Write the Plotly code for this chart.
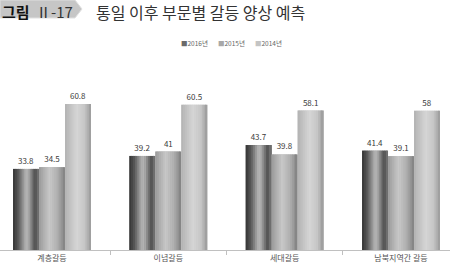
import plotly.graph_objects as go

categories = ["계층갈등", "이념갈등", "세대갈등", "남북지역간 갈등"]
series_names = ["2016년", "2015년", "2014년"]
v2016 = [33.8, 39.2, 43.7, 41.4]
v2015 = [34.5, 41, 39.8, 39.1]
v2014 = [60.8, 60.5, 58.1, 58]
values = [v2016, v2015, v2014]

title_badge = "그림"
title_num = "Ⅱ-17"
title_text = "통일 이후 부문별 갈등 양상 예측"

FONT = "Noto Sans CJK KR"
W, H = 450, 270
MT, MB = 70, 20
PH = H - MT - MB

def py(p):  # pixel y -> paper y
    return (H - MB - p) / PH

# cylinder-like gray gradients (position, gray level)
grads = [
    [(0, 0x34), (0.2, 0x58), (0.5, 0xb8), (0.6, 0xa8), (0.85, 0x4c), (1, 0x78)],
    [(0, 0x9a), (0.4, 0xc8), (0.7, 0xb0), (1, 0x80)],
    [(0, 0xb2), (0.45, 0xd6), (0.75, 0xc6), (1, 0x9a)],
]
legend_cols = ["#6a6a6a", "#a8a8a8", "#c4c4c4"]
legend_x_px = [179, 216, 253]

def gray_at(stops, t):
    for (p0, g0), (p1, g1) in zip(stops, stops[1:]):
        if p0 <= t <= p1:
            g = g0 + (g1 - g0) * (t - p0) / (p1 - p0)
            g = int(round(g))
            return f"rgb({g},{g},{g})"
    g = stops[-1][1]
    return f"rgb({g},{g},{g})"

group_w = 0.67
bw = group_w / 3
N = 14

fig = go.Figure()
for s in range(3):
    start = -group_w / 2 + s * bw
    fig.add_trace(go.Bar(
        x=categories, y=values[s], name=series_names[s],
        offset=start, width=bw, showlegend=False,
        marker=dict(color=legend_cols[s], line=dict(width=0)),
        text=[f"{v:g}" for v in values[s]], textposition="outside",
        textfont=dict(size=8, color="#3a3a3a", family=FONT),
        constraintext="none", cliponaxis=False, hoverinfo="skip",
    ))
    for j in range(N):
        sw = bw / N
        t = (j + 0.5) / N
        fig.add_trace(go.Bar(
            x=categories, y=values[s], showlegend=False,
            offset=start + j * sw, width=sw * (1.25 if j < N - 1 else 1.0),
            marker=dict(color=gray_at(grads[s], t), line=dict(width=0)),
            hoverinfo="skip",
        ))

x0 = -0.447
x1 = 3.421

fig.update_layout(
    width=W, height=H,
    margin=dict(l=0, r=0, t=MT, b=MB),
    barmode="overlay",
    paper_bgcolor="white", plot_bgcolor="white",
    font=dict(family=FONT, color="#555555", size=8),
    showlegend=False,
    xaxis=dict(range=[x0, x1], showline=True, linecolor="#c0c0c0", linewidth=1,
               ticks="outside", tickson="boundaries", ticklen=4, tickcolor="#c0c0c0",
               tickfont=dict(size=8, color="#555555"), showgrid=False, zeroline=False),
    yaxis=dict(range=[0, 75], visible=False, showgrid=False, zeroline=False),
)

# compact legend (as in the reference)
for s in range(3):
    fig.add_annotation(xref="paper", yref="paper", x=legend_x_px[s] / W, y=py(43),
                       xanchor="left", yanchor="middle",
                       text=f"<span style='color:{legend_cols[s]}'>■</span>{series_names[s]}",
                       showarrow=False, font=dict(size=6.5, color="#666666", family=FONT))

# title badge
fig.add_shape(type="path", xref="paper", yref="paper",
              path=f"M 0 {py(0)} L {75/W} {py(0)} L {82/W} {py(9)} L {75/W} {py(18)} L 0 {py(18)} Z",
              fillcolor="#c6c6c6", line=dict(color="#e0e0e0", width=1), layer="above")
fig.add_annotation(xref="paper", yref="paper", x=0, y=py(11), xanchor="left", yanchor="middle",
                   text=f"<b>{title_badge}</b>", showarrow=False,
                   font=dict(size=15, color="#111111", family=FONT))
fig.add_annotation(xref="paper", yref="paper", x=34 / W, y=py(11), xanchor="left", yanchor="middle",
                   text=title_num, showarrow=False,
                   font=dict(size=15, color="#333333", family=FONT))
fig.add_annotation(xref="paper", yref="paper", x=94 / W, y=py(12), xanchor="left", yanchor="middle",
                   text=title_text, showarrow=False,
                   font=dict(size=16, color="#333333", family=FONT))

fig.write_html("out.html")
